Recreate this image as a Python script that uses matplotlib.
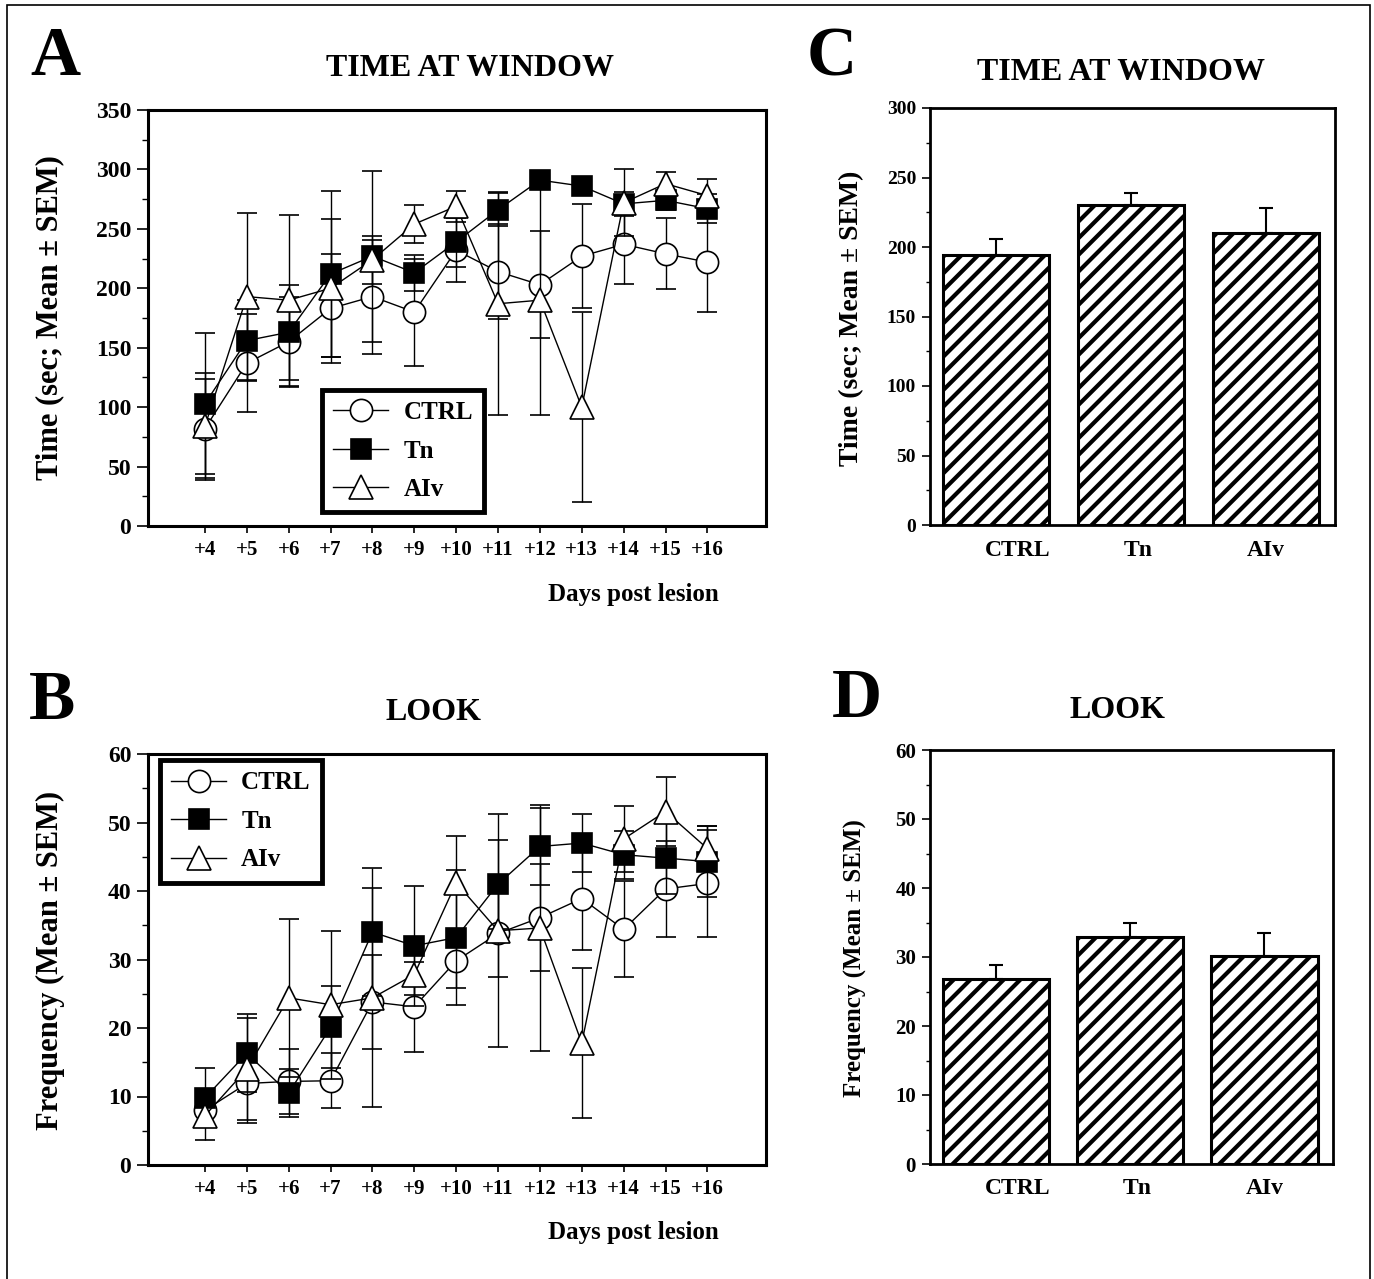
import matplotlib
matplotlib.use("Agg")
import matplotlib.pyplot as plt
from matplotlib.lines import Line2D
from matplotlib.patches import Rectangle
from matplotlib.ticker import MultipleLocator
import matplotlib.transforms as mtransforms

plt.rcParams['font.family'] = ['Liberation Serif', 'DejaVu Serif']
plt.rcParams['font.weight'] = 'bold'
plt.rcParams['hatch.linewidth'] = 3.0

# ---- data ----
days = [4, 5, 6, 7, 8, 9, 10, 11, 12, 13, 14, 15, 16]
day_labels = ['+4', '+5', '+6', '+7', '+8', '+9', '+10', '+11', '+12', '+13', '+14', '+15', '+16']

ctrl_time = [82, 137, 155, 183, 193, 180, 232, 214, 203, 227, 237, 229, 222]
ctrl_time_err = [42, 41, 38, 46, 48, 45, 27, 40, 45, 44, 33, 30, 42]
tn_time = [103, 156, 163, 212, 227, 213, 239, 266, 291, 286, 271, 274, 267]
tn_time_err = [59, 34, 40, 70, 72, 15, 21, 14, 5, 5, 10, 8, 12]
aiv_time = [84, 193, 190, 200, 224, 254, 269, 187, 190, 100, 272, 288, 278]
aiv_time_err = [45, 70, 72, 58, 20, 16, 13, 94, 97, 80, 28, 10, 14]

ctrl_look = [8.0, 11.9, 12.2, 12.3, 23.8, 23.1, 29.8, 33.8, 36.1, 38.9, 34.4, 40.3, 41.1]
ctrl_look_err = [2.5, 5.8, 4.7, 4.0, 6.9, 6.6, 4.0, 6.3, 7.8, 7.5, 7.0, 7.0, 7.8]
tn_look = [9.8, 16.3, 10.5, 20.1, 34.0, 32.0, 33.2, 41.0, 46.5, 47.0, 45.3, 44.8, 44.3]
tn_look_err = [4.3, 5.7, 3.5, 6.0, 9.4, 8.8, 9.9, 6.5, 5.6, 4.2, 3.5, 5.2, 5.2]
aiv_look = [7.2, 14.0, 24.4, 23.4, 24.4, 27.8, 41.2, 34.2, 34.6, 17.8, 47.6, 51.6, 46.2]
aiv_look_err = [3.6, 7.4, 11.5, 10.8, 16.0, 3.0, 6.9, 17.0, 18.0, 10.9, 4.8, 5.1, 3.3]

groups = ['CTRL', 'Tn', 'AIv']
time_mean = [194, 230, 210]
time_sem = [11.5, 9, 18]
look_mean = [26.8, 32.9, 30.2]
look_sem = [2.1, 2.0, 3.3]

fig = plt.figure(figsize=(13.74, 12.79), dpi=100)
W, H = 1374.0, 1279.0


def px(x0, y0, x1, y1):
    return [x0 / W, 1 - y1 / H, (x1 - x0) / W, (y1 - y0) / H]


styles = [dict(marker='o', ms=16, mfc='white'),
          dict(marker='s', ms=15, mfc='black'),
          dict(marker='^', ms=17, mfc='white')]


def line_panel(ax, series, errs, ymax, major, minor, leg_anchor):
    for k, (vals, err, st) in enumerate(zip(series, errs, styles)):
        ax.errorbar(days, vals, yerr=err, fmt='-', color='black', lw=1.0, elinewidth=1.0,
                    capsize=7, capthick=1.0, mec='black', mew=1.2, zorder=3 + k, **st)
    ax.set_xlim(2.64, 17.4)
    ax.set_ylim(0, ymax)
    ax.set_xticks(days)
    ax.set_xticklabels(day_labels, fontsize=15, fontweight='bold')
    ax.yaxis.set_major_locator(MultipleLocator(major))
    ax.yaxis.set_minor_locator(MultipleLocator(minor))
    ax.tick_params(axis='y', which='major', length=8, width=1.2, labelsize=17, pad=4)
    ax.tick_params(axis='y', which='minor', length=4, width=1.0)
    ax.tick_params(axis='x', length=5, width=1.2, pad=5)
    for s in ax.spines.values():
        s.set_linewidth(2.2)
    handles = [Line2D([], [], color='black', lw=1.0, mec='black', mew=1.2, **st) for st in styles]
    leg = ax.legend(handles, groups, loc='upper left', bbox_to_anchor=leg_anchor,
                    borderaxespad=0, fancybox=False, framealpha=1, edgecolor='black',
                    prop={'size': 18, 'weight': 'bold'}, handlelength=2.2,
                    handletextpad=0.6, labelspacing=0.62, borderpad=0.45)
    leg.get_frame().set_linewidth(3.5)
    ax.text(0.785, -0.165, 'Days post lesion', transform=ax.transAxes, fontsize=18,
            fontweight='bold', ha='center', va='center')


# the group names sit a little right of the bar centres in the original
label_shift = [22, 7, 0]


def bar_panel(ax, means, sems, ymax, major, minor, ticksize):
    pos = list(range(len(groups)))
    ax.bar(pos, means, width=0.79, color='white', edgecolor='black', linewidth=2.2,
           hatch='//', zorder=2)
    ax.errorbar(pos, means, yerr=[[0] * len(sems), sems], fmt='none', ecolor='black',
                elinewidth=1.5, capsize=5, capthick=1.5, zorder=1)
    ax.set_xlim(-0.49, 2.51)
    ax.set_ylim(0, ymax)
    ax.set_xticks([])
    for p, g, dx in zip(pos, groups, label_shift):
        tr = ax.get_xaxis_transform() + mtransforms.ScaledTranslation(dx / 100.0, -0.25, fig.dpi_scale_trans)
        ax.text(p, 0, g, transform=tr, fontsize=17, fontweight='bold', ha='center', va='center')
    ax.yaxis.set_major_locator(MultipleLocator(major))
    ax.yaxis.set_minor_locator(MultipleLocator(minor))
    ax.tick_params(axis='y', which='major', length=6, width=1.2, labelsize=ticksize, pad=4)
    ax.tick_params(axis='y', which='minor', length=3, width=1.0)
    for s in ax.spines.values():
        s.set_linewidth(2.0)


axA = fig.add_axes(px(148, 110, 766, 526))
line_panel(axA, [ctrl_time, tn_time, aiv_time], [ctrl_time_err, tn_time_err, aiv_time_err],
           350, 50, 25, (0.2816, 0.327))

axB = fig.add_axes(px(148, 754, 766, 1165))
line_panel(axB, [ctrl_look, tn_look, aiv_look], [ctrl_look_err, tn_look_err, aiv_look_err],
           60, 10, 5, (0.0194, 0.985))

axC = fig.add_axes(px(930, 108, 1335, 525))
bar_panel(axC, time_mean, time_sem, 300, 50, 25, 14)

axD = fig.add_axes(px(930, 750, 1333, 1164))
bar_panel(axD, look_mean, look_sem, 60, 10, 5, 15)


def ftext(x, y, s, **kw):
    fig.text(x / W, 1 - y / H, s, fontweight='bold', ha='center', va='center', **kw)


ftext(55, 58, 'A', fontsize=50)
ftext(52, 702, 'B', fontsize=50)
ftext(832, 58, 'C', fontsize=50)
ftext(857, 700, 'D', fontsize=50)

ftext(470, 68, 'TIME AT WINDOW', fontsize=23)
ftext(1121, 73, 'TIME AT WINDOW', fontsize=23)
ftext(434, 712, 'LOOK', fontsize=23)
ftext(1118, 710, 'LOOK', fontsize=23)

ftext(50, 318, 'Time (sec; Mean \u00b1 SEM)', fontsize=22, rotation=90)
ftext(50, 960, 'Frequency (Mean \u00b1 SEM)', fontsize=22, rotation=90)
ftext(852, 318, 'Time (sec; Mean \u00b1 SEM)', fontsize=20, rotation=90)
ftext(855, 958, 'Frequency (Mean \u00b1 SEM)', fontsize=18, rotation=90)

# outer frame
fig.patches.append(Rectangle((7 / W, -0.01), (1370 - 7) / W, 1.01 - 5 / H,
                             transform=fig.transFigure, fill=False, edgecolor='black',
                             linewidth=1.2))

fig.savefig('out.png', dpi=100, facecolor='white')
